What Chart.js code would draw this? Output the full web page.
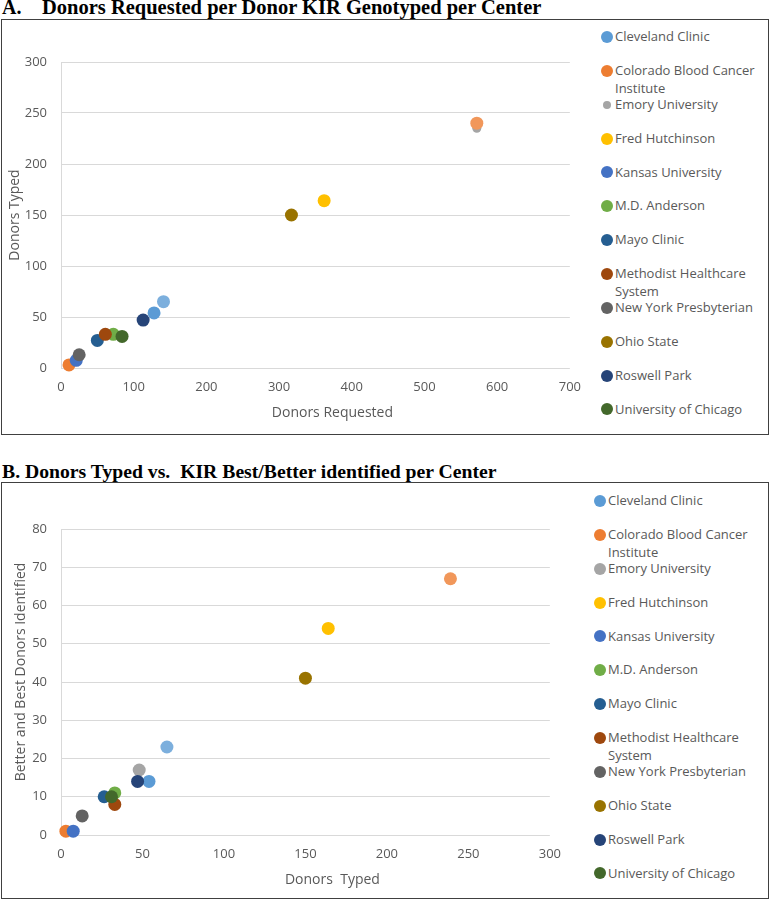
<!DOCTYPE html>
<html>
<head>
<meta charset="utf-8">
<script src="https://cdn.jsdelivr.net/npm/chart.js@4.4.1/dist/chart.umd.min.js"></script>
<style>
body { margin: 0; background: #fff; width: 770px; height: 900px; position: relative; overflow: hidden; font-family: "Open Sans", sans-serif; }
.titulo { position: absolute; font-family: "Liberation Serif", "Times New Roman", serif; font-weight: bold; font-size: 20px; line-height: 20px; color: #000; white-space: pre; }
.caixa { position: absolute; border: 1px solid #404040; box-sizing: border-box; }
.caixa canvas { position: absolute; left: 0; top: 0; }
.item { position: absolute; font-size: 13px; line-height: 17.7px; color: #595959; width: 145px; }
.marca { position: absolute; border-radius: 50%; }
</style>
</head>
<body>

<div class="titulo" style="left:2px; top:-3.5px;">A.<span style="position:absolute; left:40px; font-size:20.5px;">Donors Requested per Donor KIR Genotyped per Center</span></div>
<div class="caixa" style="left:1px; top:19px; width:768px; height:416px;">
    <canvas id="graficoA" width="590" height="414"></canvas>
</div>

<div class="titulo" style="left:2px; top:460.5px; font-size:19.7px;">B. Donors Typed vs.  KIR Best/Better identified per Center</div>
<div class="caixa" style="left:1px; top:482px; width:768px; height:417px;">
    <canvas id="graficoB" width="570" height="415"></canvas>
</div>

<div id="legendas"></div>

<script>
// centros (os dois ultimos nao aparecem na legenda original)
const centros = ["Cleveland Clinic", "Colorado Blood Cancer Institute", "Emory University", "Fred Hutchinson",
    "Kansas University", "M.D. Anderson", "Mayo Clinic", "Methodist Healthcare System",
    "New York Presbyterian", "Ohio State", "Roswell Park", "University of Chicago", "Series 13", "Series 14"];
const cores = ["#5B9BD5", "#ED7D31", "#A5A5A5", "#FFC000", "#4472C4", "#70AD47", "#255E91", "#9E480E",
    "#636363", "#997300", "#264478", "#43682B", "#7CAFDD", "#F1975A"];
const qtdLegenda = 12;

// grafico A
const solicitadosA = [128, 11, 572, 362, 21, 72, 50, 61, 25, 317, 113, 84, 141, 572];
const tipadosA = [54, 3, 235, 164, 7.5, 33, 27, 33, 13, 150, 47, 31, 65, 240];
const ticksXA = [0, 100, 200, 300, 400, 500, 600, 700];
const ticksYA = [0, 50, 100, 150, 200, 250, 300];

// grafico B
const tipadosB = [54, 3, 48, 164, 7.5, 33, 26.5, 33, 13, 150, 47, 31, 65, 239];
const identificadosB = [14, 1, 17, 54, 1, 11, 10, 8, 5, 41, 14, 10, 23, 67];
const ticksXB = [0, 50, 100, 150, 200, 250, 300];
const ticksYB = [0, 10, 20, 30, 40, 50, 60, 70, 80];

Chart.defaults.font.family = '"Open Sans", sans-serif';
Chart.defaults.color = '#595959';

const titulosEixos = {
    id: 'titulosEixos',
    afterDraw(chart, args, opts) {
        const { ctx, chartArea: a } = chart;
        ctx.save();
        ctx.fillStyle = '#595959';
        ctx.font = '14px "Open Sans", sans-serif';
        ctx.textAlign = 'center';
        ctx.textBaseline = 'middle';
        ctx.fillText(opts.x, (a.left + a.right) / 2 + opts.dx, a.bottom + opts.dy);
        ctx.translate(opts.yx, (a.top + a.bottom) / 2 + opts.yy);
        ctx.rotate(-Math.PI / 2);
        ctx.fillText(opts.y, 0, 0);
        ctx.restore();
    }
};

function montarGrafico(id, xs, ys, ticksX, ticksY, raios, cfg) {
    const datasets = centros.map((nome, i) => ({
        label: nome,
        data: [{ x: xs[i], y: ys[i] }],
        backgroundColor: cores[i],
        borderColor: cores[i],
        borderWidth: 0,
        pointRadius: raios[i],
        pointHoverRadius: raios[i],
        clip: false,
        order: centros.length - i
    }));

    return new Chart(document.getElementById(id), {
        type: 'scatter',
        data: { datasets },
        options: {
            responsive: false,
            animation: false,
            layout: { padding: { top: cfg.top, right: cfg.right, left: 0, bottom: 0 } },
            plugins: {
                legend: { display: false },
                tooltip: { enabled: false },
                titulosEixos: cfg.titulos
            },
            scales: {
                x: {
                    type: 'linear',
                    min: ticksX[0],
                    max: ticksX[ticksX.length - 1],
                    afterBuildTicks: (s) => { s.ticks = ticksX.map(v => ({ value: v })); },
                    afterFit: (s) => { s.height = cfg.alturaX; },
                    grid: { display: false, drawTicks: false },
                    border: { display: false },
                    ticks: { padding: 11, font: { size: 13 }, color: '#595959', maxRotation: 0 }
                },
                y: {
                    type: 'linear',
                    min: ticksY[0],
                    max: ticksY[ticksY.length - 1],
                    afterBuildTicks: (s) => { s.ticks = ticksY.map(v => ({ value: v })); },
                    afterFit: (s) => { s.width = 59; },
                    grid: { color: '#d9d9d9', drawTicks: false },
                    border: { display: true, color: '#d9d9d9' },
                    ticks: { padding: 14, font: { size: 13 }, color: '#595959' }
                }
            }
        },
        plugins: [titulosEixos]
    });
}

const raiosA = centros.map((c, i) => i === 2 ? 4.5 : 6.5);
const raiosB = centros.map(() => 6.5);

montarGrafico('graficoA', solicitadosA, tipadosA, ticksXA, ticksYA, raiosA, {
    top: 42, right: 17, alturaX: 66,
    titulos: { x: 'Donors Requested', y: 'Donors Typed', dx: 17, dy: 45, yx: 13.5, yy: 0 }
});

montarGrafico('graficoB', tipadosB, identificadosB, ticksXB, ticksYB, raiosB, {
    top: 46, right: 19, alturaX: 63,
    titulos: { x: 'Donors  Typed', y: 'Better and Best Donors Identified', dx: 27, dy: 45, yx: 19, yy: -10 }
});

function montarLegenda(marcaX, textoX, y0, passo, raios) {
    const caixa = document.getElementById('legendas');
    centros.slice(0, qtdLegenda).forEach((nome, i) => {
        const y = y0 + passo * i;
        const r = raios[i] - 0.5;
        const marca = document.createElement('div');
        marca.className = 'marca';
        marca.style.cssText = `left:${marcaX - r}px; top:${y - r}px; width:${r * 2}px; height:${r * 2}px; background:${cores[i]};`;
        const item = document.createElement('div');
        item.className = 'item';
        item.style.cssText = `left:${textoX}px; top:${y - 8.85}px;`;
        item.textContent = nome;
        caixa.appendChild(marca);
        caixa.appendChild(item);
    });
}

montarLegenda(607, 615, 37, 33.85, raiosA);
montarLegenda(600, 608, 501, 33.85, raiosB);
</script>
</body>
</html>
